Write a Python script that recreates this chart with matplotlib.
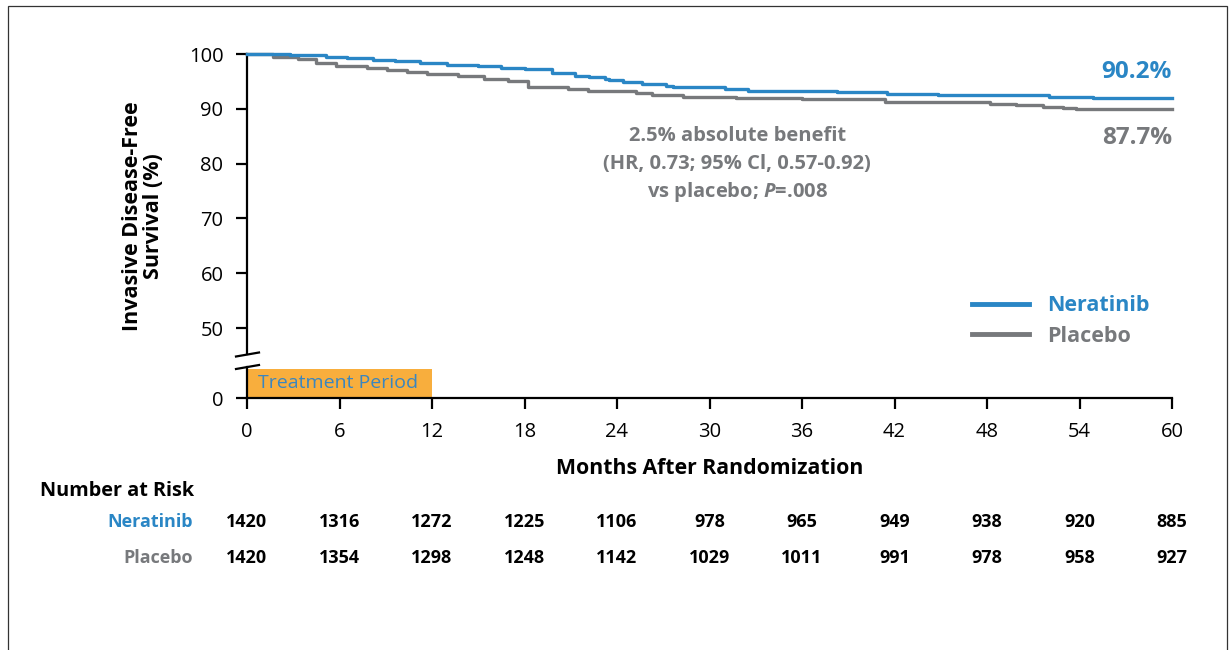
import matplotlib.pyplot as plt
from matplotlib.lines import Line2D
from matplotlib.patches import Rectangle
import matplotlib.transforms as mtransforms

plt.rcParams['font.family'] = ['Open Sans', 'DejaVu Sans']
plt.rcParams['mathtext.fontset'] = 'custom'
plt.rcParams['mathtext.it'] = 'Open Sans:bold:italic'
plt.rcParams['mathtext.rm'] = 'Open Sans:bold'

# Kaplan-Meier step points (months, % event-free)
nera_t = [0, 2.8, 5.1, 6.5, 8.2, 9.6, 11.2, 13.0, 15.0, 16.5, 18.0, 19.8, 21.3,
          22.2, 23.2, 23.5, 24.4, 25.6, 27.2, 27.6, 31.0, 32.5, 38.3, 41.5,
          44.8, 52.0, 54.9, 60]
nera_s = [100, 99.8, 99.45, 99.3, 98.96, 98.7, 98.36, 98.05, 97.8, 97.5, 97.26,
          96.45, 96.0, 95.85, 95.4, 95.25, 94.95, 94.5, 94.2, 93.9, 93.6, 93.3,
          93.07, 92.7, 92.45, 92.15, 91.9, 91.9]
plac_t = [0, 1.7, 3.3, 4.5, 5.8, 7.8, 9.1, 10.4, 11.7, 13.7, 15.4, 16.9, 18.2,
          20.8, 22.1, 25.2, 26.3, 28.3, 31.7, 36.0, 38.3, 41.4, 48.2, 49.9,
          51.6, 52.9, 53.8, 60]
plac_s = [100, 99.45, 99.1, 98.36, 97.9, 97.45, 97.1, 96.7, 96.35, 95.9, 95.4,
          95.0, 93.9, 93.55, 93.25, 92.8, 92.5, 92.2, 92.0, 91.8, 91.7, 91.2,
          90.9, 90.7, 90.4, 90.1, 89.9, 89.9]

risk_months = [0, 6, 12, 18, 24, 30, 36, 42, 48, 54, 60]
risk_nera = [1420, 1316, 1272, 1225, 1106, 978, 965, 949, 938, 920, 885]
risk_plac = [1420, 1354, 1298, 1248, 1142, 1029, 1011, 991, 978, 958, 927]

final_nera = '90.2%'
final_plac = '87.7%'
treatment_months = 12
hr_lines = ['2.5% absolute benefit', '(HR, 0.73; 95% Cl, 0.57-0.92)',
            r'vs placebo; $P$=.008']

BLUE = '#2a86c5'
GRAY = '#77797c'
ORANGE = '#f8ae3d'

W, H = 1231, 650
fig = plt.figure(figsize=(W / 100, H / 100), dpi=100)


def fx(x):
    return x / W


def fy(y):
    return 1 - y / H


# outer frame
fig.add_artist(Rectangle((fx(8), fy(700)), fx(1227) - fx(8), fy(6) - fy(700),
                         transform=fig.transFigure, fill=False,
                         edgecolor='#333333', linewidth=0.9))

# upper panel: 45-100 %
ax = fig.add_axes([fx(247), fy(354), fx(1172) - fx(247), fy(54) - fy(354)])
ax.set_xlim(0, 60)
ax.set_ylim(100 - 300 / 5.48, 100)
ax.step(nera_t, nera_s, where='post', color=BLUE, lw=2.4, clip_on=False,
        label='Neratinib', zorder=3)
ax.step(plac_t, plac_s, where='post', color=GRAY, lw=2.4, clip_on=False,
        label='Placebo', zorder=2)
for s in ['top', 'right', 'bottom']:
    ax.spines[s].set_visible(False)
ax.spines['left'].set_linewidth(1.6)
ax.set_xticks([])
ax.set_yticks([50, 60, 70, 80, 90, 100])
ax.tick_params(axis='y', length=8, width=1.6, labelsize=14.5, pad=9)

# lower panel: 0 with treatment period bar
ax0 = fig.add_axes([fx(247), fy(398), fx(1172) - fx(247), fy(367) - fy(398)])
ax0.set_xlim(0, 60)
ax0.set_ylim(0, 1)
ax0.bar(0, 0.95, width=treatment_months, align='edge', color=ORANGE, zorder=1)
ax0.text(0.7, 0.47, 'Treatment Period', color='#3a86c0', fontsize=14,
         va='center', ha='left')
for s in ['top', 'right']:
    ax0.spines[s].set_visible(False)
ax0.spines['left'].set_linewidth(1.6)
ax0.spines['bottom'].set_linewidth(1.6)
ax0.set_yticks([0])
ax0.set_xticks(risk_months)
ax0.tick_params(axis='both', length=8, width=1.6, labelsize=14.5, pad=9)
ax0.set_xlabel('Months After Randomization', fontsize=15.3, fontweight='bold',
               labelpad=12)

# axis break marks
for yb in (354.5, 367):
    fig.add_artist(Line2D([fx(236), fx(259)], [fy(yb + 2), fy(yb - 2)],
                          transform=fig.transFigure, color='black', lw=1.6))

fig.text(fx(143), fy(216), 'Invasive Disease-Free\nSurvival (%)', rotation=90,
         ha='center', va='center', fontsize=15.5, fontweight='bold',
         linespacing=1.05)

# final rates and hazard ratio annotation
ax.text(60, 96.8, final_nera, color=BLUE, fontsize=17.5, fontweight='bold',
        ha='right', va='center')
ax.text(60, 84.6, final_plac, color=GRAY, fontsize=17.5, fontweight='bold',
        ha='right', va='center')
ty = mtransforms.blended_transform_factory(ax.transData, fig.transFigure)
for line, py in zip(hr_lines, [136, 164, 192]):
    ax.text(31.8, fy(py), line, transform=ty, color=GRAY, fontsize=14.5,
            fontweight='bold', ha='center', va='center')

leg = ax.legend(loc='center left', bbox_to_anchor=(fx(953), fy(321)),
                bbox_transform=fig.transFigure, frameon=False,
                handlelength=2.65, handletextpad=0.8, labelspacing=0.42,
                labelcolor=[BLUE, GRAY], prop={'weight': 'bold', 'size': 15.5})
for h in leg.legend_handles:
    h.set_linewidth(3.5)

# number at risk table
tr = mtransforms.blended_transform_factory(ax0.transData, fig.transFigure)
fig.text(fx(40), fy(491), 'Number at Risk', fontsize=14.3, fontweight='bold',
         ha='left', va='center')
fig.text(fx(193), fy(522), 'Neratinib', color=BLUE, fontsize=13,
         fontweight='bold', ha='right', va='center')
fig.text(fx(193), fy(558), 'Placebo', color=GRAY, fontsize=13,
         fontweight='bold', ha='right', va='center')
for m, a, b in zip(risk_months, risk_nera, risk_plac):
    ax0.text(m, fy(522), str(a), transform=tr, fontsize=13, fontweight='bold',
             ha='center', va='center')
    ax0.text(m, fy(558), str(b), transform=tr, fontsize=13, fontweight='bold',
             ha='center', va='center')

fig.savefig('out.png', dpi=100)
